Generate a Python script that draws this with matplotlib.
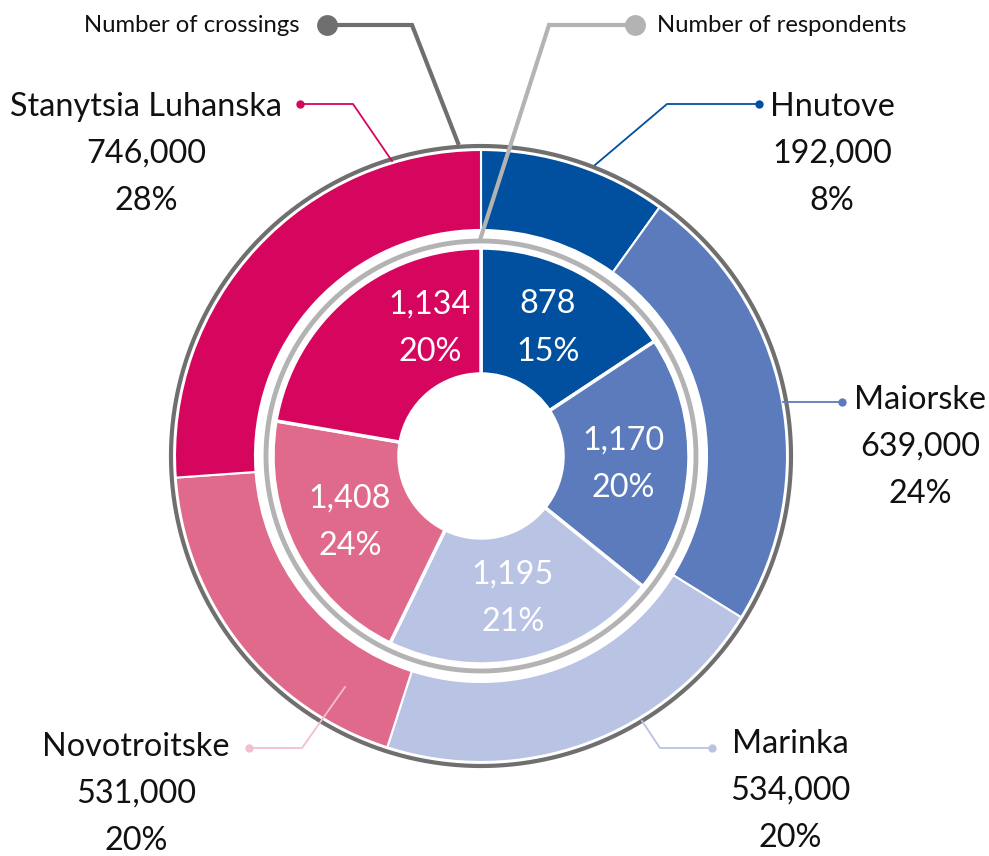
import matplotlib
matplotlib.use("Agg")
import matplotlib.pyplot as plt
import numpy as np

# ---------------- data ----------------
crossings_cats = ["Hnutove", "Maiorske", "Marinka", "Novotroitske", "Stanytsia Luhanska"]
crossings = [192000, 639000, 534000, 531000, 746000]
crossings_pct = [8, 24, 20, 20, 28]
# wedge shares as drawn in the picture (percent of the ring)
crossings_share = [9.9, 23.9, 21.1, 18.9, 26.1]

respondents = [878, 1170, 1195, 1408, 1134]
respondents_pct = [15, 20, 21, 24, 20]
respondents_share = [15.7, 20.1, 21.4, 20.5, 22.3]

colors = ["#00509f", "#5b7bbd", "#b9c3e4", "#e06a8b", "#d6065f"]
leader_colors = ["#00509f", "#5b7bbd", "#b9c3e4", "#f2bfcd", "#d6065f"]

W, H = 989, 856
FONT = ["Lato", "DejaVu Sans"]
plt.rcParams["font.family"] = FONT

fig = plt.figure(figsize=(W / 100, H / 100), dpi=100)
ax = fig.add_axes([0, 0, 1, 1])

def P(x, y):
    """pixel coords (y down) -> data coords (y up)"""
    return x, H - y

cx, cy = P(481, 456)

# outer ring: crossings
ax.pie(crossings_share, radius=306, center=(cx, cy), startangle=90, counterclock=False,
       colors=colors, wedgeprops=dict(width=80, edgecolor="white", linewidth=1.5), frame=True)
# inner ring: respondents
ax.pie(respondents_share, radius=208, center=(cx, cy), startangle=90, counterclock=False,
       colors=colors, wedgeprops=dict(width=126, edgecolor="white", linewidth=2.5), frame=True)

# gray outline circles
t = np.linspace(0, 2 * np.pi, 721)
ax.plot(cx + 310 * np.cos(t), cy + 310 * np.sin(t), color="#6f6f6f", lw=3.0, solid_capstyle="butt")
ax.plot(cx + 215 * np.cos(t), cy + 215 * np.sin(t), color="#b3b3b3", lw=3.5, solid_capstyle="butt")

FS = 23.3
LS = 1.72

# inner labels (white)
inner_pos = [(548, 328), (623, 464), (513, 598), (350, 522), (430, 328)]
for (x, y), v, p in zip(inner_pos, respondents, respondents_pct):
    X, Y = P(x, y)
    ax.text(X, Y, f"{v:,}\n{p}%", color="white", ha="center", va="center",
            fontsize=FS, linespacing=LS)

# outer labels
outer_pos = [(832, 154), (920, 447), (790, 791), (136, 794), (146, 154)]
for (x, y), name, v, p in zip(outer_pos, crossings_cats, crossings, crossings_pct):
    X, Y = P(x, y)
    ax.text(X, Y, f"{name}\n{v:,}\n{p}%", color="#111111", ha="center", va="center",
            fontsize=FS, linespacing=LS)

# leader lines for categories
leaders = [
    [(595, 165), (667, 104), (759, 104)],
    [(783, 402), (842, 402)],
    [(642, 721), (660, 748), (712, 748)],
    [(345, 687), (302, 748), (249, 748)],
    [(392, 161), (353, 104), (300, 104)],
]
for pts, c in zip(leaders, leader_colors):
    xs, ys = zip(*[P(x, y) for x, y in pts])
    ax.plot(xs, ys, color=c, lw=1.3)
    ax.plot(xs[-1], ys[-1], "o", color=c, ms=6, mec="none")

# series legend leaders
legend_lines = [
    ("Number of crossings", "#6f6f6f", [(458, 143), (412, 25), (327, 25)], "right", 300),
    ("Number of respondents", "#b3b3b3", [(480, 240), (549, 25), (635, 25)], "left", 657),
]
for label, c, pts, ha, tx in legend_lines:
    xs, ys = zip(*[P(x, y) for x, y in pts])
    ax.plot(xs, ys, color=c, lw=3.0, solid_joinstyle="miter")
    ax.plot(xs[-1], ys[-1], "o", color=c, ms=15, mec="none")
    X, Y = P(tx, 25)
    ax.text(X, Y, label, ha=ha, va="center", fontsize=17.2, color="#111111")

ax.set_xlim(0, W)
ax.set_ylim(0, H)
ax.set_aspect("equal", adjustable="box")
ax.axis("off")

fig.savefig("out.png", dpi=100)
